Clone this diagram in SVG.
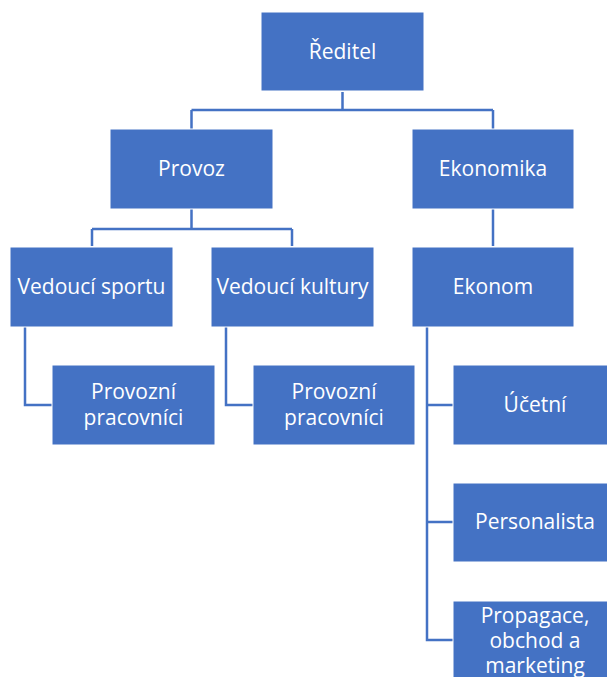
<svg xmlns="http://www.w3.org/2000/svg" width="607" height="677" viewBox="0 0 607 677">
<style>
.box{fill:#4472C4;stroke:#ffffff;stroke-width:1}
.lbl{font-family:"Open Sans","Liberation Sans",sans-serif;font-size:21px;fill:#ffffff;text-anchor:middle}
.con{fill:none;stroke:#4472C4;stroke-width:2.5}
</style>
<rect width="607" height="677" fill="#ffffff"/>
<g id="connectors">
<path class="con" d="M342.5 92 V110 M191.5 110 H493 M191.5 110 V129 M493 110 V129"/>
<path class="con" d="M191.5 209 V229 M92 229 H292 M92 229 V246 M292 229 V246"/>
<path class="con" d="M493 209 V246"/>
<path class="con" d="M25 327 V405 H52"/>
<path class="con" d="M226 327 V405 H253"/>
<path class="con" d="M427 327 V640 H453 M427 405 H453 M427 522 H453"/>
</g>
<g id="reditel"><rect class="box" x="261" y="12" width="163" height="79"/><text class="lbl" x="342.5" y="59">Ředitel</text></g>
<g id="provoz"><rect class="box" x="110" y="129" width="163" height="80"/><text class="lbl" x="191.5" y="176">Provoz</text></g>
<g id="ekonomika"><rect class="box" x="412" y="129" width="162" height="80"/><text class="lbl" x="493" y="176">Ekonomika</text></g>
<g id="vedouci-sportu"><rect class="box" x="10" y="247" width="163" height="80"/><text class="lbl" x="91.5" y="294">Vedoucí sportu</text></g>
<g id="vedouci-kultury"><rect class="box" x="211" y="247" width="163" height="80"/><text class="lbl" x="292.5" y="294">Vedoucí kultury</text></g>
<g id="ekonom"><rect class="box" x="412" y="247" width="162" height="80"/><text class="lbl" x="493" y="294">Ekonom</text></g>
<g id="provozni-1"><rect class="box" x="52" y="365" width="163" height="80"/><text class="lbl" x="133.5" y="399">Provozní</text><text class="lbl" x="133.5" y="425">pracovníci</text></g>
<g id="provozni-2"><rect class="box" x="253" y="365" width="162" height="80"/><text class="lbl" x="334" y="399">Provozní</text><text class="lbl" x="334" y="425">pracovníci</text></g>
<g id="ucetni"><rect class="box" x="453" y="365" width="163" height="80"/><text class="lbl" x="535" y="412">Účetní</text></g>
<g id="personalista"><rect class="box" x="453" y="483" width="163" height="79"/><text class="lbl" x="535" y="529">Personalista</text></g>
<g id="propagace"><rect class="box" x="453" y="601" width="163" height="80"/><text class="lbl" x="535" y="623">Propagace,</text><text class="lbl" x="535" y="648">obchod a</text><text class="lbl" x="535" y="673">marketing</text></g>
</svg>
